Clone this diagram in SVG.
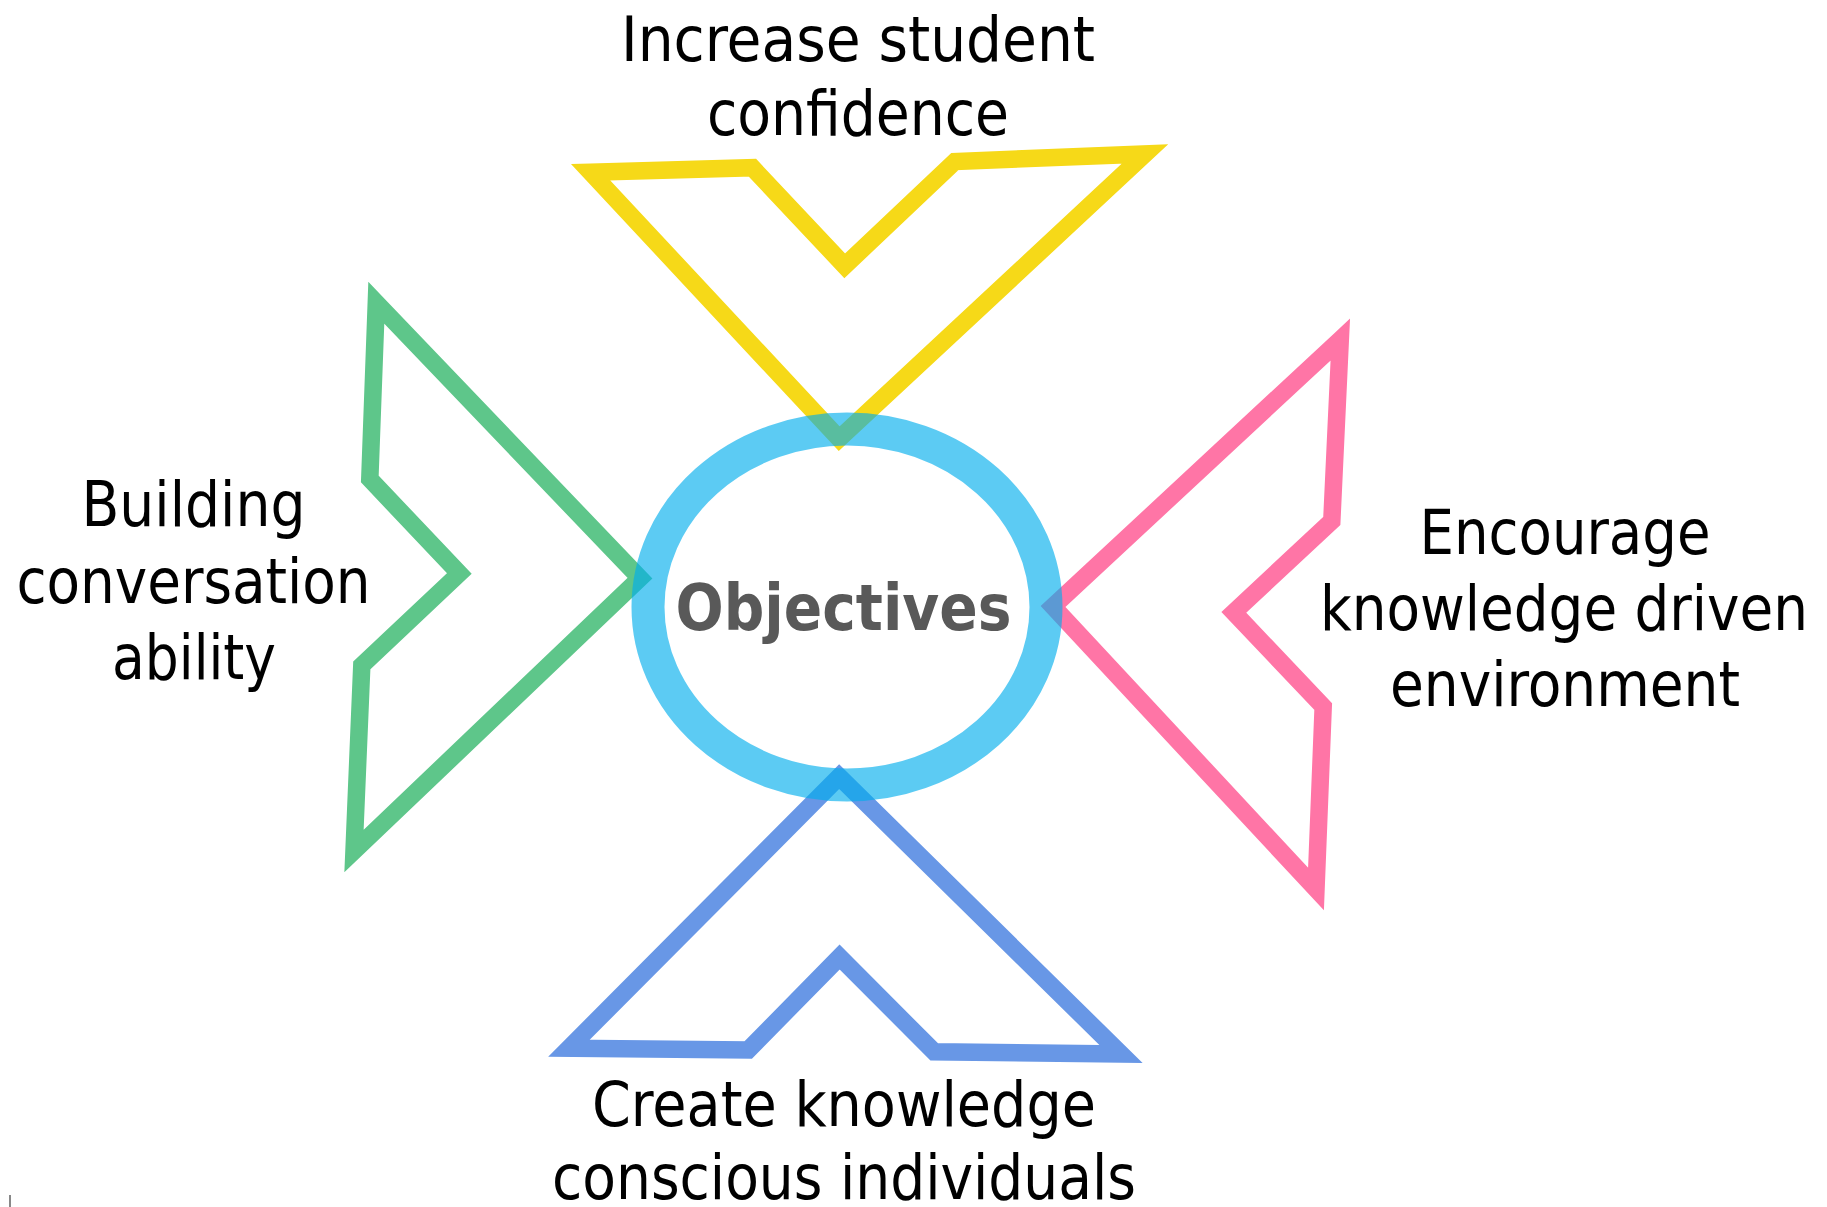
<svg xmlns="http://www.w3.org/2000/svg" width="1827" height="1207" viewBox="0 0 1827 1207">
<style>
.shape{fill:none;stroke-width:17.5;stroke-linejoin:miter;stroke-miterlimit:10}
.lbl{font-family:"DejaVu Sans Condensed","DejaVu Sans",sans-serif;font-stretch:condensed;font-size:62px;fill:#000;text-anchor:middle}
.ttl{font-family:"DejaVu Sans Condensed","DejaVu Sans",sans-serif;font-stretch:condensed;font-weight:bold;font-size:64px;fill:#595959;text-anchor:middle}
</style>
<rect width="1827" height="1207" fill="#fff"/>
<g id="connectors"/>
<g id="node-confidence">
<polygon class="shape" stroke="#F6D918" points="590.6,172.2 752.4,167.7 844.7,265.8 954.9,161.5 1145,154 839.2,438.7"/>
<text class="lbl" x="858" y="61" textLength="474" lengthAdjust="spacingAndGlyphs">Increase student</text>
<text class="lbl" x="858" y="135" textLength="302" lengthAdjust="spacingAndGlyphs">confidence</text>
</g>
<g id="node-conversation">
<polygon class="shape" stroke="#5EC68A" points="376.3,302.8 640,578.2 354,851 361.8,665.5 459.3,573.5 369.8,479"/>
<text class="lbl" x="193.5" y="526" textLength="224" lengthAdjust="spacingAndGlyphs">Building</text>
<text class="lbl" x="193.5" y="603" textLength="354" lengthAdjust="spacingAndGlyphs">conversation</text>
<text class="lbl" x="194" y="679" textLength="164" lengthAdjust="spacingAndGlyphs">ability</text>
</g>
<g id="node-environment">
<polygon class="shape" stroke="#FF75A6" points="1340.3,339.6 1053,606.5 1316,889 1323.2,706.6 1233.8,612.3 1331.8,521"/>
<text class="lbl" x="1565" y="554" textLength="291" lengthAdjust="spacingAndGlyphs">Encourage</text>
<text class="lbl" x="1564" y="630" textLength="488" lengthAdjust="spacingAndGlyphs">knowledge driven</text>
<text class="lbl" x="1565" y="706" textLength="350" lengthAdjust="spacingAndGlyphs">environment</text>
</g>
<g id="node-individuals">
<polygon class="shape" stroke="#6897E6" points="839.2,776.7 569,1048.2 748.3,1050 839.6,957 934.1,1051.8 1121,1054"/>
<text class="lbl" x="844" y="1126" textLength="504" lengthAdjust="spacingAndGlyphs">Create knowledge</text>
<text class="lbl" x="844" y="1199" textLength="584" lengthAdjust="spacingAndGlyphs">conscious individuals</text>
</g>
<g id="node-objectives">
<ellipse cx="847" cy="607" rx="199" ry="178" fill="none" stroke="#00ADEC" stroke-opacity="0.64" stroke-width="33"/>
<text class="ttl" x="843.5" y="630" textLength="336" lengthAdjust="spacingAndGlyphs">Objectives</text>
</g>
<line x1="10" y1="1195" x2="10" y2="1207" stroke="#888" stroke-width="2"/>
</svg>
